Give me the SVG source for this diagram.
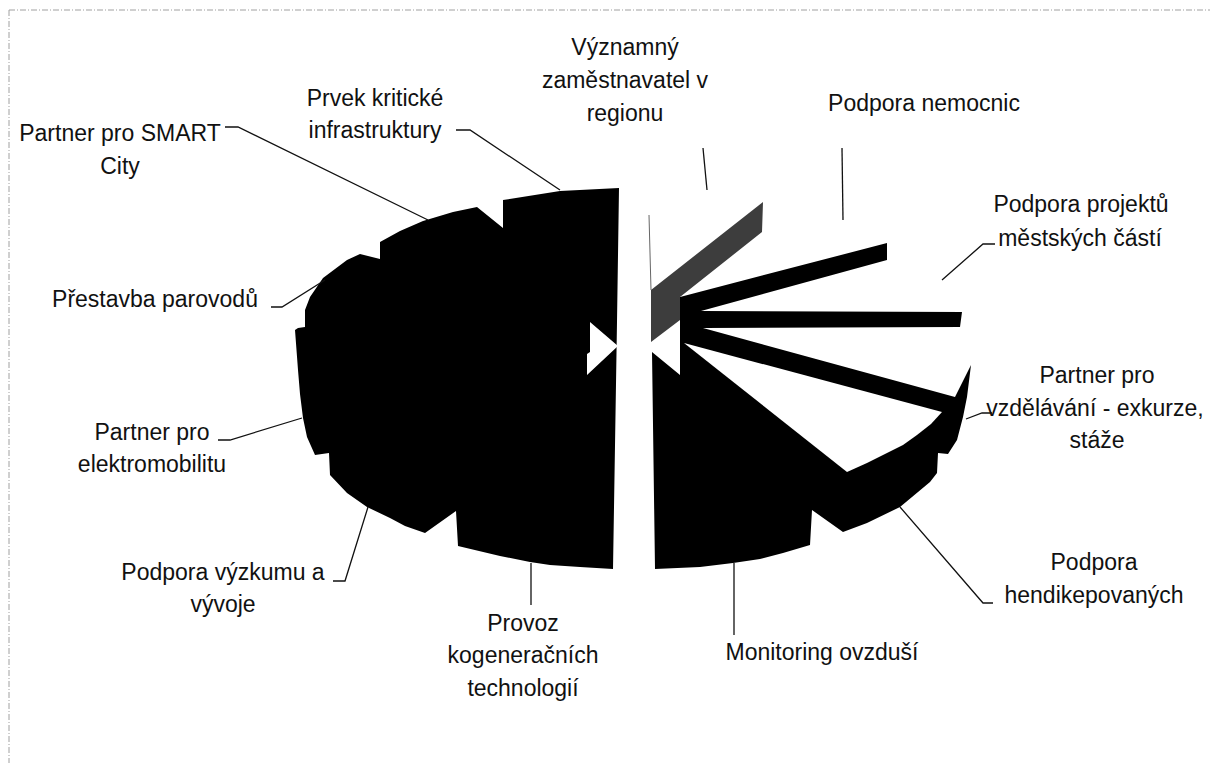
<svg xmlns="http://www.w3.org/2000/svg" width="1210" height="763" viewBox="0 0 1210 763">
  <style>
    .lbl { font-family: "Liberation Sans", Arial, sans-serif; font-size: 23px; fill: #111; text-anchor: middle; }
    .lead { fill: none; stroke: #111; stroke-width: 1.3; }
    .blk { fill: #000; }
    .wht { fill: #fff; }
    .gry { fill: #3d3d3d; }
    .frame { stroke: #a0a0a0; stroke-width: 1; stroke-dasharray: 6 2 1 2; fill: none; }
  </style>
  <rect x="0" y="0" width="1210" height="763" fill="#fff"/>
  <g id="frame">
    <line class="frame" x1="9" y1="10" x2="1210" y2="10"/>
    <line class="frame" x1="9" y1="10" x2="9" y2="763"/>
  </g>

  <g id="pie">
    <!-- left half (exploded) -->
    <polygon id="pie-left" class="blk" points="503,200 560,191 619,188 617,322 613,569 580,567 550,565 530,562 500,556 458,546 456,511 425,533 405,526 390,518 367,507 347,493 330,475 329,453 315,455 307,437 303,418 300,394 298,370 295,330 298,328 305,327 305,310 310,297 323,278 347,260 360,254 380,259 380,242 400,231 423,221 453,212 477,207 503,228"/>
    <polygon id="bowtie-left" class="wht" points="590,322 618,346 587,375 587,354 590,352"/>
    <!-- right half -->
    <line x1="649" y1="215" x2="651" y2="290" stroke="#666" stroke-width="1"/>
    <polygon id="slice-grey" class="gry" points="651,290 763,202 762,232 680,297 680,320 651,342"/>
    <polygon id="pie-right" class="blk" points="680,297 887,243 887,260 701,311 962,312 960,327 703,328 955,397 971,365 967,397 963,417 957,440 948,454 938,453 937,473 930,482 900,507 867,523 843,532 812,510 810,545 783,553 760,559 733,563 700,567 655,569 652,352 680,375"/>
    <polygon id="wedge-white" class="wht" points="684,343 942,412 931,424 917,435 903,445 887,453 867,463 847,472"/>
  </g>

  <g id="connectors">
    <polyline class="lead" points="225,127 238,127 428,220"/>
    <polyline class="lead" points="456,130 470,130 560,190"/>
    <line class="lead" x1="703" y1="148" x2="707" y2="190"/>
    <line class="lead" x1="842" y1="148" x2="843" y2="220"/>
    <polyline class="lead" points="995,244 983,244 942,280"/>
    <polyline class="lead" points="271,307 282,307 325,280"/>
    <polyline class="lead" points="218,440 230,440 302,418"/>
    <polyline class="lead" points="333,581 345,581 368,507"/>
    <line class="lead" x1="531" y1="563" x2="531" y2="605"/>
    <line class="lead" x1="734" y1="563" x2="734" y2="635"/>
    <polyline class="lead" points="900,507 983,603 993,603"/>
    <polyline class="lead" points="966,419 982,413 992,413"/>
  </g>

  <g id="label-smart"><text class="lbl" x="120" y="141">Partner pro SMART</text><text class="lbl" x="120" y="174">City</text></g>
  <g id="label-prvek"><text class="lbl" x="375" y="106">Prvek kritické</text><text class="lbl" x="375" y="138">infrastruktury</text></g>
  <g id="label-zamestnavatel"><text class="lbl" x="625" y="55">Významný</text><text class="lbl" x="625" y="88">zaměstnavatel v</text><text class="lbl" x="625" y="121">regionu</text></g>
  <g id="label-nemocnic"><text class="lbl" x="924" y="111">Podpora nemocnic</text></g>
  <g id="label-projektu"><text class="lbl" x="1081" y="212">Podpora projektů</text><text class="lbl" x="1080" y="246">městských částí</text></g>
  <g id="label-parovodu"><text class="lbl" x="155" y="307">Přestavba parovodů</text></g>
  <g id="label-elektromobilita"><text class="lbl" x="152" y="440">Partner pro</text><text class="lbl" x="152" y="472">elektromobilitu</text></g>
  <g id="label-vyzkum"><text class="lbl" x="223" y="580">Podpora výzkumu a</text><text class="lbl" x="223" y="612">vývoje</text></g>
  <g id="label-kogenerace"><text class="lbl" x="523" y="631">Provoz</text><text class="lbl" x="523" y="663">kogeneračních</text><text class="lbl" x="523" y="696">technologií</text></g>
  <g id="label-monitoring"><text class="lbl" x="822" y="660">Monitoring ovzduší</text></g>
  <g id="label-vzdelavani"><text class="lbl" x="1097" y="383">Partner pro</text><text class="lbl" x="1095" y="416">vzdělávání - exkurze,</text><text class="lbl" x="1097" y="448">stáže</text></g>
  <g id="label-hendikep"><text class="lbl" x="1094" y="570">Podpora</text><text class="lbl" x="1094" y="603">hendikepovaných</text></g>
</svg>
